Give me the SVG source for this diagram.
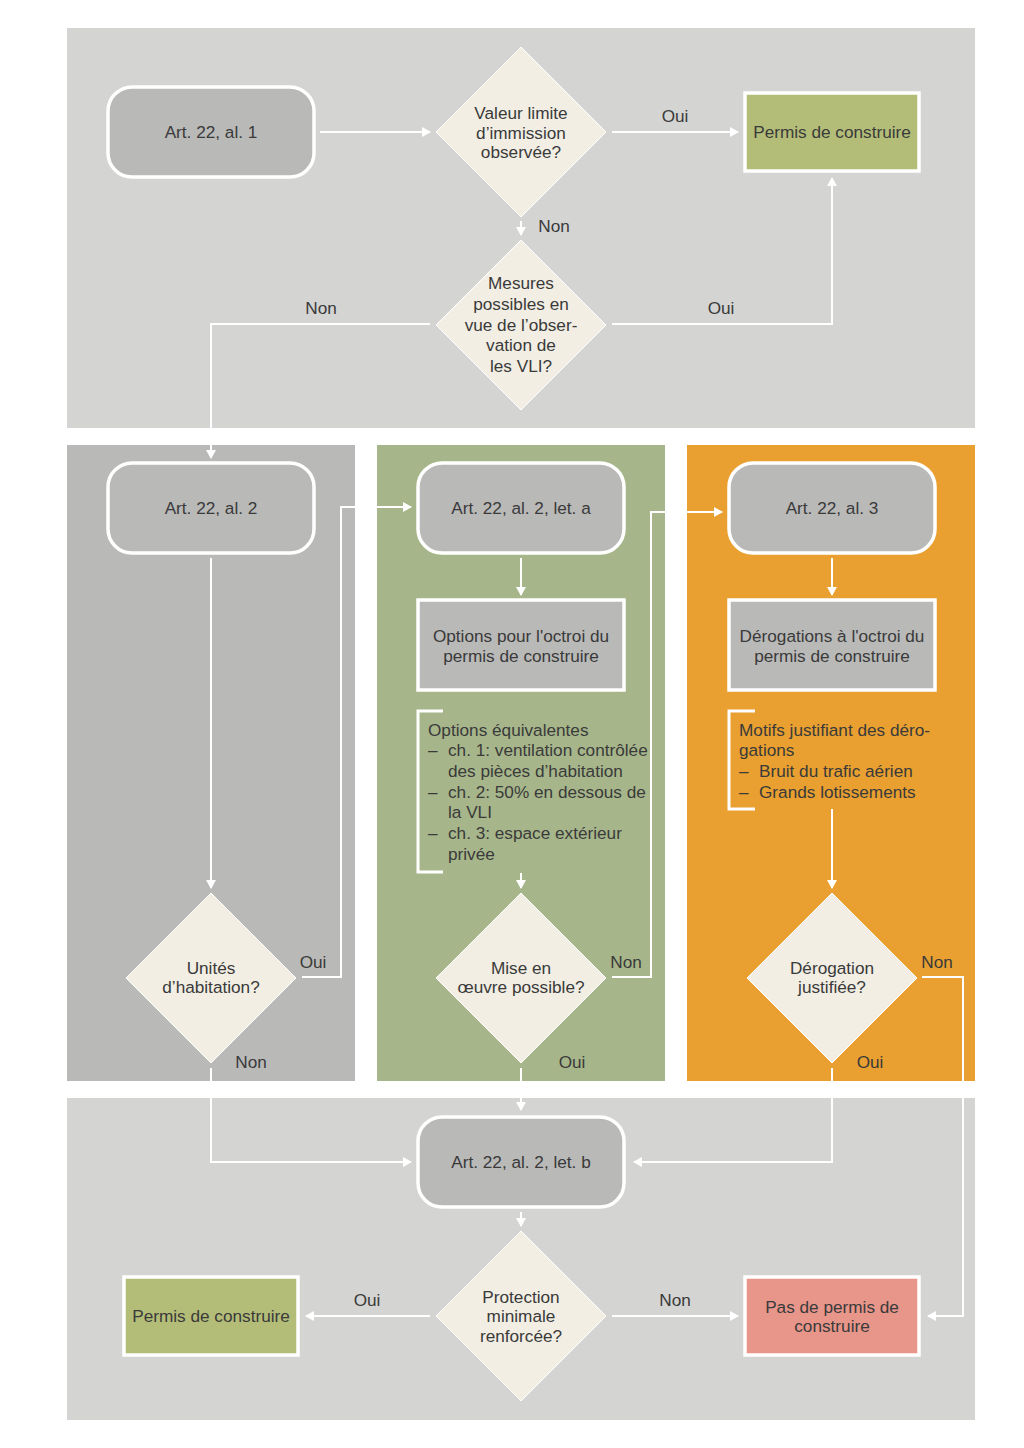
<svg xmlns="http://www.w3.org/2000/svg" width="1024" height="1448" viewBox="0 0 1024 1448">
<defs>
<marker id="ah" markerWidth="10" markerHeight="10" refX="8" refY="5" orient="auto" markerUnits="userSpaceOnUse">
<path d="M0,0 L9,5 L0,10 Z" fill="#ffffff"/>
</marker>
<style>
text{font-family:"Liberation Sans",Arial,sans-serif;font-size:17.2px;fill:#3a3a3a}
.c{text-anchor:middle}
.rr{fill:#b9b9b8;stroke:#ffffff;stroke-width:3.5}
.bx{fill:#b9b9b8;stroke:#ffffff;stroke-width:3.5}
.gr{fill:#b4bd78;stroke:#ffffff;stroke-width:3.5}
.rd{fill:#e8958a;stroke:#ffffff;stroke-width:3.5}
.dm{fill:#f2eee4;stroke:#ffffff;stroke-width:1}
.ln{fill:none;stroke:#ffffff;stroke-width:2}
.ar{fill:none;stroke:#ffffff;stroke-width:2;marker-end:url(#ah)}
.br{fill:none;stroke:#ffffff;stroke-width:3}
</style>
</defs>
<rect width="1024" height="1448" fill="#ffffff"/>
<g id="panels">
<rect x="67" y="28" width="908" height="400" fill="#d4d4d3"/>
<rect x="67" y="445" width="288" height="636" fill="#b9b9b8"/>
<rect x="377" y="445" width="288" height="636" fill="#a7b68a"/>
<rect x="687" y="445" width="288" height="636" fill="#e9a030"/>
<rect x="67" y="1098" width="908" height="322" fill="#d4d4d3"/>
</g>
<g id="connectors">
<line class="ar" x1="320" y1="132" x2="430" y2="132"/>
<line class="ar" x1="612" y1="132" x2="738" y2="132"/>
<line class="ar" x1="521" y1="221" x2="521" y2="235"/>
<polyline class="ar" points="612,324 832,324 832,178"/>
<polyline class="ar" points="430,324 211,324 211,458"/>
<line class="ar" x1="211" y1="558" x2="211" y2="888"/>
<polyline class="ar" points="302,977 341,977 341,507 411,507"/>
<line class="ar" x1="521" y1="558" x2="521" y2="595"/>
<line class="ar" x1="521" y1="873" x2="521" y2="888"/>
<polyline class="ar" points="612,977 651,977 651,512 722,512"/>
<line class="ar" x1="832" y1="558" x2="832" y2="595"/>
<line class="ar" x1="832" y1="809" x2="832" y2="888"/>
<polyline class="ar" points="922,977 963,977 963,1316 928,1316"/>
<polyline class="ar" points="211,1068 211,1162 411,1162"/>
<line class="ar" x1="521" y1="1068" x2="521" y2="1110"/>
<polyline class="ar" points="832,1068 832,1162 634,1162"/>
<line class="ar" x1="521" y1="1212" x2="521" y2="1226"/>
<line class="ar" x1="430" y1="1316" x2="306" y2="1316"/>
<line class="ar" x1="612" y1="1316" x2="738" y2="1316"/>
<text class="c" x="675" y="122">Oui</text>
<text class="c" x="554" y="232">Non</text>
<text class="c" x="721" y="314">Oui</text>
<text class="c" x="321" y="314">Non</text>
<text class="c" x="313" y="968">Oui</text>
<text class="c" x="626" y="968">Non</text>
<text class="c" x="937" y="968">Non</text>
<text class="c" x="251" y="1068">Non</text>
<text class="c" x="572" y="1068">Oui</text>
<text class="c" x="870" y="1068">Oui</text>
<text class="c" x="367" y="1306">Oui</text>
<text class="c" x="675" y="1306">Non</text>
</g>
<g id="n-art22-al1">
<rect class="rr" x="108" y="87" width="206" height="90" rx="24"/>
<text class="c" x="211" y="138">Art. 22, al. 1</text>
</g>
<g id="n-valeur-limite">
<polygon class="dm" points="521,47 606,132 521,217 436,132"/>
<text class="c" x="521" y="119">Valeur limite</text>
<text class="c" x="521" y="139">d’immission</text>
<text class="c" x="521" y="158">observée?</text>
</g>
<g id="n-permis-1">
<rect class="gr" x="745" y="93" width="174" height="78"/>
<text class="c" x="832" y="138">Permis de construire</text>
</g>
<g id="n-mesures">
<polygon class="dm" points="521,240 606,325 521,410 436,325"/>
<text class="c" x="521" y="289">Mesures</text>
<text class="c" x="521" y="310">possibles en</text>
<text class="c" x="521" y="331">vue de l’obser-</text>
<text class="c" x="521" y="351">vation de</text>
<text class="c" x="521" y="372">les VLI?</text>
</g>
<g id="n-art22-al2">
<rect class="rr" x="108" y="463" width="206" height="90" rx="24"/>
<text class="c" x="211" y="514">Art. 22, al. 2</text>
</g>
<g id="n-art22-al2-leta">
<rect class="rr" x="418" y="463" width="206" height="90" rx="24"/>
<text class="c" x="521" y="514">Art. 22, al. 2, let. a</text>
</g>
<g id="n-art22-al3">
<rect class="rr" x="729" y="463" width="206" height="90" rx="24"/>
<text class="c" x="832" y="514">Art. 22, al. 3</text>
</g>
<g id="n-options">
<rect class="bx" x="418" y="600" width="206" height="90"/>
<text class="c" x="521" y="642">Options pour l'octroi du</text>
<text class="c" x="521" y="662">permis de construire</text>
</g>
<g id="n-derogations">
<rect class="bx" x="729" y="600" width="206" height="90"/>
<text class="c" x="832" y="642">Dérogations à l'octroi du</text>
<text class="c" x="832" y="662">permis de construire</text>
</g>
<g id="n-options-equivalentes">
<polyline class="br" points="443,711 418,711 418,872 443,872"/>
<text x="428" y="736">Options équivalentes</text>
<text x="428" y="756">–</text><text x="448" y="756">ch. 1: ventilation contrôlée</text>
<text x="448" y="777">des pièces d’habitation</text>
<text x="428" y="798">–</text><text x="448" y="798">ch. 2: 50% en dessous de</text>
<text x="448" y="818">la VLI</text>
<text x="428" y="839">–</text><text x="448" y="839">ch. 3: espace extérieur</text>
<text x="448" y="860">privée</text>
</g>
<g id="n-motifs">
<polyline class="br" points="755,711 729,711 729,809 755,809"/>
<text x="739" y="736">Motifs justifiant des déro-</text>
<text x="739" y="756">gations</text>
<text x="739" y="777">–</text><text x="759" y="777">Bruit du trafic aérien</text>
<text x="739" y="798">–</text><text x="759" y="798">Grands lotissements</text>
</g>
<g id="n-unites">
<polygon class="dm" points="211,893 296,978 211,1063 126,978"/>
<text class="c" x="211" y="974">Unités</text>
<text class="c" x="211" y="993">d’habitation?</text>
</g>
<g id="n-mise-en-oeuvre">
<polygon class="dm" points="521,893 606,978 521,1063 436,978"/>
<text class="c" x="521" y="974">Mise en</text>
<text class="c" x="521" y="993">œuvre possible?</text>
</g>
<g id="n-derogation-justifiee">
<polygon class="dm" points="832,893 917,978 832,1063 747,978"/>
<text class="c" x="832" y="974">Dérogation</text>
<text class="c" x="832" y="993">justifiée?</text>
</g>
<g id="n-art22-al2-letb">
<rect class="rr" x="418" y="1117" width="206" height="90" rx="24"/>
<text class="c" x="521" y="1168">Art. 22, al. 2, let. b</text>
</g>
<g id="n-protection">
<polygon class="dm" points="521,1231 606,1316 521,1401 436,1316"/>
<text class="c" x="521" y="1303">Protection</text>
<text class="c" x="521" y="1322">minimale</text>
<text class="c" x="521" y="1342">renforcée?</text>
</g>
<g id="n-permis-2">
<rect class="gr" x="124" y="1277" width="174" height="78"/>
<text class="c" x="211" y="1322">Permis de construire</text>
</g>
<g id="n-pas-de-permis">
<rect class="rd" x="745" y="1277" width="174" height="78"/>
<text class="c" x="832" y="1313">Pas de permis de</text>
<text class="c" x="832" y="1332">construire</text>
</g>
</svg>
